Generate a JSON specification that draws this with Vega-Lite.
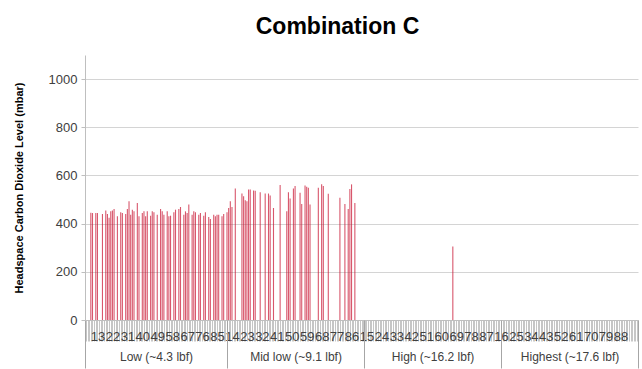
{
  "$schema": "https://vega.github.io/schema/vega-lite/v6.json",
  "width": 553,
  "height": 265,
  "autosize": {"type": "none"},
  "padding": {"left": 85, "top": 55, "right": 4, "bottom": 49},
  "background": "white",
  "title": {"text": "Combination C", "fontSize": 23, "font": "Liberation Sans", "fontWeight": "bold", "color": "black", "anchor": "middle", "frame": "group", "dx": -24, "offset": 16},
  "config": {"view": {"stroke": null}, "font": "Liberation Sans"},
  "layer": [
    {
      "data": {"values": [
        {"i":0,"v":445},{"i":1,"v":444},{"i":3,"v":444},{"i":4,"v":444},{"i":7,"v":440},{"i":9,"v":455},{"i":10,"v":440},{"i":11,"v":424},{"i":12,"v":451},{"i":13,"v":455},{"i":14,"v":461},{"i":16,"v":431},{"i":18,"v":447},{"i":19,"v":444},{"i":21,"v":440},{"i":22,"v":461},{"i":23,"v":493},{"i":24,"v":437},{"i":25,"v":458},{"i":26,"v":451},{"i":28,"v":486},{"i":29,"v":431},{"i":31,"v":444},{"i":32,"v":451},{"i":33,"v":431},{"i":34,"v":451},{"i":36,"v":433},{"i":37,"v":451},{"i":38,"v":447},{"i":40,"v":437},{"i":42,"v":461},{"i":43,"v":451},{"i":44,"v":437},{"i":46,"v":451},{"i":47,"v":431},{"i":48,"v":433},{"i":50,"v":447},{"i":51,"v":458},{"i":53,"v":461},{"i":54,"v":469},{"i":56,"v":437},{"i":57,"v":451},{"i":58,"v":444},{"i":59,"v":479},{"i":61,"v":437},{"i":62,"v":451},{"i":63,"v":447},{"i":65,"v":437},{"i":66,"v":444},{"i":68,"v":433},{"i":69,"v":447},{"i":71,"v":428},{"i":72,"v":419},{"i":74,"v":437},{"i":75,"v":431},{"i":76,"v":437},{"i":77,"v":437},{"i":79,"v":431},{"i":80,"v":440},{"i":82,"v":447},{"i":83,"v":465},
        {"i":84,"v":493},{"i":85,"v":469},{"i":87,"v":546},{"i":91,"v":525},{"i":92,"v":514},{"i":93,"v":497},{"i":94,"v":493},{"i":95,"v":542},{"i":96,"v":542},{"i":98,"v":538},{"i":99,"v":536},{"i":102,"v":530},{"i":105,"v":525},{"i":107,"v":525},{"i":108,"v":517},{"i":110,"v":465},{"i":114,"v":560},{"i":118,"v":451},{"i":119,"v":530},{"i":120,"v":504},{"i":122,"v":546},{"i":123,"v":556},{"i":126,"v":528},{"i":127,"v":482},{"i":129,"v":558},{"i":130,"v":553},{"i":131,"v":549},{"i":132,"v":479},{"i":137,"v":549},{"i":139,"v":563},{"i":140,"v":556},{"i":143,"v":524},{"i":150,"v":507},{"i":153,"v":482},{"i":155,"v":461},{"i":156,"v":544},{"i":157,"v":563},{"i":159,"v":486},
        {"i":218,"v":305}
      ]},
      "mark": {"type": "bar", "orient": "vertical", "size": 1.1, "color": "#c8102e", "opacity": 0.7},
      "encoding": {
        "x": {
          "field": "i", "type": "quantitative",
          "scale": {"domain": [-0.5, 326.5], "nice": false, "zero": false},
          "axis": {
            "orient": "bottom", "title": null, "grid": false, "tickCount": 327,
            "tickSize": 21, "tickColor": "#c6c6c6", "domainColor": "#bfbfbf",
            "labelOverlap": false, "labelFlush": false, "labelBound": false, "labelAngle": 0,
            "labelFontSize": 13, "labelColor": "#404040", "labelPadding": -11,
            "labelExpr": "datum.value >= 4 && datum.value <= 319 && (datum.value - 4) % 9 == 0 ? '' + [13,22,31,40,49,58,67,76,85,14,23,32,41,50,59,68,77,86,15,24,33,42,51,60,69,78,87,16,25,34,43,52,61,70,79,88][(datum.value - 4) / 9] : ''"
          }
        },
        "y": {
          "field": "v", "type": "quantitative",
          "scale": {"domain": [0, 1100], "nice": false},
          "axis": {
            "title": "Headspace Carbon Dioxide Level (mbar)", "values": [0, 200, 400, 600, 800, 1000], "format": "d",
            "titleFontSize": 11, "titleFontWeight": "bold", "titleColor": "black", "titlePadding": 24,
            "labelFontSize": 13, "labelColor": "#404040", "labelPadding": 4,
            "tickSize": 4, "tickColor": "#bfbfbf", "domainColor": "#bfbfbf", "gridColor": "#d4d4d4"
          }
        }
      }
    },
    {
      "data": {"values": [
        {"g": "Low (~4.3 lbf)", "s": 0, "e": 84},
        {"g": "Mid low (~9.1 lbf)", "s": 84, "e": 165},
        {"g": "High (~16.2 lbf)", "s": 165, "e": 246},
        {"g": "Highest (~17.6 lbf)", "s": 246, "e": 327}
      ]},
      "mark": {"type": "rect", "opacity": 0},
      "encoding": {
        "x": {
          "field": "s", "type": "quantitative",
          "scale": {"domain": [0, 327], "nice": false, "zero": false},
          "axis": {
            "orient": "bottom", "title": null, "grid": false, "domain": false,
            "values": [0, 42, 84, 124.5, 165, 205.5, 246, 286.5, 327],
            "tickSize": 48, "tickColor": "#a6a6a6",
            "tickOpacity": {"condition": {"test": "datum.value == 42 || datum.value == 124.5 || datum.value == 205.5 || datum.value == 286.5", "value": 0}, "value": 1},
            "labelOverlap": false, "labelFlush": false, "labelBound": false, "labelAngle": 0,
            "labelFontSize": 12, "labelColor": "#404040", "labelPadding": -17,
            "labelExpr": "datum.value == 42 ? 'Low (~4.3 lbf)' : datum.value == 124.5 ? 'Mid low (~9.1 lbf)' : datum.value == 205.5 ? 'High (~16.2 lbf)' : datum.value == 286.5 ? 'Highest (~17.6 lbf)' : ''"
          }
        },
        "x2": {"field": "e"}
      }
    }
  ],
  "resolve": {"scale": {"x": "independent"}, "axis": {"x": "independent"}}
}
